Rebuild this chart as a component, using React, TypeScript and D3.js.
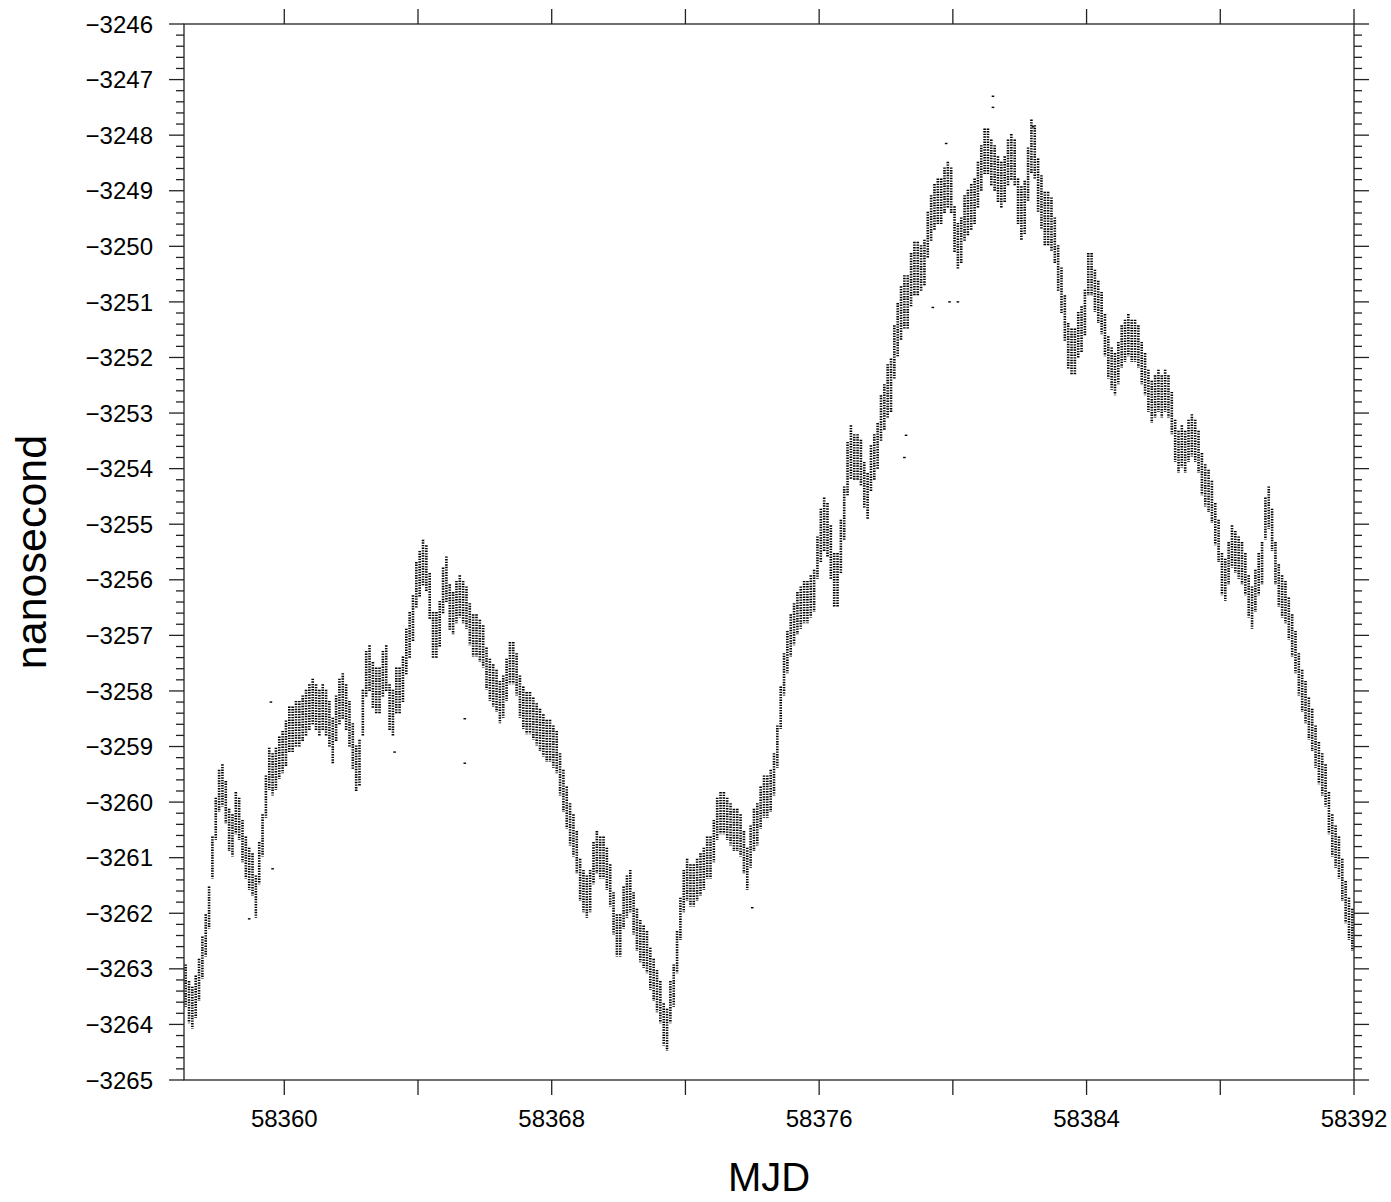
import React from 'react';
import * as d3 from 'd3';

// Clock offset (nanosecond): one value per 0.1 day, starting at MJD 58357.0
const mid57to61 = [
  -3263.3, -3263.6, -3263.7, -3263.5, -3263.2, -3262.8, -3262.4, -3261.9, -3261.0, -3260.3,
  -3259.8, -3259.7, -3260.0, -3260.5, -3260.6, -3260.2, -3260.3, -3260.7, -3261.0, -3261.2,
  -3261.3, -3261.7, -3261.1, -3260.6, -3259.9, -3259.4, -3259.5, -3259.4, -3259.2, -3259.1,
  -3258.95, -3258.7, -3258.7, -3258.6, -3258.6, -3258.5, -3258.4, -3258.3, -3258.2, -3258.3,
  -3258.4, -3258.3, -3258.4, -3258.6, -3258.9, -3258.5, -3258.2, -3258.1, -3258.3, -3258.6,
];
const mid62to66 = [
  -3259.0, -3259.4, -3259.3, -3258.4, -3257.7, -3257.6, -3257.9, -3258.0, -3258.0, -3257.7,
  -3257.6, -3258.3, -3258.4, -3258.0, -3258.0, -3257.8, -3257.3, -3257.0, -3256.7, -3256.1,
  -3255.9, -3255.7, -3255.8, -3256.3, -3257.0, -3257.0, -3256.8, -3256.2, -3256.0, -3256.5,
  -3256.6, -3256.4, -3256.3, -3256.4, -3256.5, -3256.8, -3257.0, -3257.0, -3257.1, -3257.2,
  -3257.6, -3257.8, -3257.9, -3258.0, -3258.2, -3258.1, -3257.8, -3257.5, -3257.5, -3257.7,
];
const mid67to71 = [
  -3258.1, -3258.3, -3258.4, -3258.4, -3258.5, -3258.6, -3258.7, -3258.8, -3258.9, -3258.9,
  -3259.0, -3259.1, -3259.5, -3259.8, -3260.1, -3260.4, -3260.6, -3260.9, -3261.4, -3261.6,
  -3261.7, -3261.6, -3261.1, -3260.9, -3261.0, -3261.0, -3261.2, -3261.5, -3262.0, -3262.4,
  -3262.4, -3261.9, -3261.7, -3261.6, -3262.0, -3262.3, -3262.5, -3262.6, -3262.7, -3263.0,
  -3263.2, -3263.4, -3263.6, -3264.0, -3264.1, -3263.6, -3263.3, -3262.7, -3262.1, -3261.6,
];
const mid72to76 = [
  -3261.4, -3261.5, -3261.5, -3261.4, -3261.3, -3261.2, -3261.0, -3261.0, -3260.7, -3260.3,
  -3260.2, -3260.2, -3260.3, -3260.4, -3260.5, -3260.5, -3260.6, -3260.9, -3261.2, -3260.8,
  -3260.5, -3260.4, -3260.1, -3259.9, -3259.9, -3259.8, -3259.5, -3259.0, -3258.3, -3257.7,
  -3257.3, -3257.0, -3256.8, -3256.6, -3256.5, -3256.4, -3256.4, -3256.3, -3256.2, -3255.6,
  -3255.2, -3255.0, -3255.1, -3255.5, -3256.0, -3256.0, -3255.4, -3254.8, -3254.0, -3253.7,
];
const mid77to81 = [
  -3253.8, -3253.8, -3253.9, -3254.3, -3254.5, -3254.0, -3253.8, -3253.6, -3253.1, -3252.9,
  -3252.6, -3252.5, -3251.9, -3251.5, -3251.2, -3251.0, -3251.0, -3250.6, -3250.4, -3250.4,
  -3250.4, -3250.3, -3249.8, -3249.5, -3249.3, -3249.2, -3249.2, -3249.0, -3248.9, -3249.0,
  -3249.7, -3250.0, -3249.9, -3249.5, -3249.4, -3249.3, -3249.2, -3248.9, -3248.6, -3248.3,
  -3248.3, -3248.5, -3248.6, -3248.8, -3248.9, -3248.8, -3248.5, -3248.4, -3248.5, -3249.2,
];
const mid82to86 = [
  -3249.4, -3249.3, -3248.7, -3248.2, -3248.3, -3248.9, -3249.2, -3249.5, -3249.5, -3249.6,
  -3249.9, -3250.4, -3250.8, -3251.3, -3251.8, -3251.9, -3251.9, -3251.6, -3251.5, -3251.2,
  -3250.5, -3250.5, -3250.8, -3251.0, -3251.2, -3251.6, -3252.0, -3252.2, -3252.3, -3252.1,
  -3251.8, -3251.7, -3251.6, -3251.7, -3251.7, -3251.8, -3252.1, -3252.3, -3252.6, -3252.8,
  -3252.7, -3252.6, -3252.7, -3252.6, -3252.7, -3253.0, -3253.5, -3253.7, -3253.6, -3253.7,
];
const mid87to91 = [
  -3253.5, -3253.4, -3253.5, -3253.7, -3254.1, -3254.3, -3254.4, -3254.6, -3255.0, -3255.3,
  -3255.9, -3256.0, -3255.7, -3255.4, -3255.5, -3255.6, -3255.7, -3255.9, -3256.3, -3256.5,
  -3256.2, -3255.9, -3255.7, -3254.9, -3254.7, -3255.1, -3255.7, -3256.1, -3256.3, -3256.4,
  -3256.7, -3257.0, -3257.3, -3257.7, -3258.0, -3258.2, -3258.5, -3258.7, -3259.0, -3259.3,
  -3259.5, -3259.7, -3260.2, -3260.6, -3260.8, -3261.0, -3261.4, -3261.8, -3262.1, -3262.3,
];

// Half-width of the point cloud for each whole day (MJD 58357 … 58391)
const halfSpreadPerDay = [
  0.38, 0.38, 0.38, 0.42, 0.42,
  0.42, 0.42, 0.42, 0.38, 0.38,
  0.38, 0.38, 0.38, 0.38, 0.38,
  0.38, 0.38, 0.38, 0.38, 0.48,
  0.42, 0.48, 0.42, 0.42, 0.42,
  0.48, 0.42, 0.38, 0.38, 0.38,
  0.38, 0.38, 0.38, 0.38, 0.38,
];

// Isolated points away from the main cloud: [MJD, nanosecond]
const outliers: [number, number][] = [
  [58358.95, -3262.1], [58359.6, -3258.2], [58359.65, -3261.2], [58363.3, -3259.1],
  [58365.4, -3259.3], [58365.4, -3258.5], [58374.0, -3261.9], [58378.55, -3253.8],
  [58378.6, -3253.4], [58379.4, -3251.1], [58379.8, -3248.15], [58379.9, -3251.0],
  [58380.15, -3251.0], [58381.2, -3247.3], [58381.2, -3247.5], [58382.4, -3247.85],
];

const startMJD = 58357;
const binDays = 0.1;
const xDomain = [58357, 58392];
const yDomain = [-3265, -3246];
const xMajorTicks = [58360, 58364, 58368, 58372, 58376, 58380, 58384, 58388, 58392];
const xLabelTicks = [58360, 58368, 58376, 58384, 58392];
const yMajorTicks = d3.range(-3265, -3245, 1);

const fmt = (v: number) => (v < 0 ? '\u2212' + Math.abs(v) : String(v));

export default function App() {
  const W = 1391;
  const H = 1202;
  const left = 184, right = 1354, top = 24, bottom = 1080;
  const x = d3.scaleLinear().domain(xDomain).range([left, right]);
  const y = d3.scaleLinear().domain(yDomain).range([bottom, top]);

  const mids = [...mid57to61, ...mid62to66, ...mid67to71, ...mid72to76, ...mid77to81, ...mid82to86, ...mid87to91];
  const bins = mids.map((v, i) => {
    const t = startMJD + i * binDays + binDays / 2;
    const h = halfSpreadPerDay[Math.floor(i / 10)];
    return { t, lo: v - h, hi: v + h };
  });

  const yMinor = d3.range(0, 96).map((k) => -3265 + k * 0.2).filter((v) => Math.abs(v - Math.round(v)) > 0.01 && v < -3246);

  const font = 'Liberation Sans, Arial, Helvetica, sans-serif';
  const axisColor = '#222';
  const majorLen = 15;
  const minorLen = 8;

  return (
    <svg width={W} height={H} style={{ position: 'absolute', left: 0, top: 0, background: '#fff' }} fontFamily={font}>
      <rect x={0} y={0} width={W} height={H} fill="#fff" />
      {/* data */}
      <g stroke="#000" strokeWidth={2.6} strokeDasharray="1.4 1.2">
        {bins.map((b, i) => (
          <line key={i} x1={x(b.t)} x2={x(b.t)} y1={y(b.hi)} y2={y(b.lo)} />
        ))}
      </g>
      <g fill="#000">
        {outliers.map(([t, v], i) => (
          <rect key={i} x={x(t) - 1.3} y={y(v) - 0.7} width={2.6} height={1.4} />
        ))}
      </g>
      {/* frame */}
      <rect x={left} y={top} width={right - left} height={bottom - top} fill="none" stroke={axisColor} strokeWidth={1.3} />
      {/* ticks */}
      <g stroke={axisColor} strokeWidth={1.3}>
        {yMajorTicks.map((v) => (
          <g key={v}>
            <line x1={left - majorLen} x2={left} y1={y(v)} y2={y(v)} />
            <line x1={right} x2={right + majorLen} y1={y(v)} y2={y(v)} />
          </g>
        ))}
        {yMinor.map((v, i) => (
          <g key={i}>
            <line x1={left - minorLen} x2={left} y1={y(v)} y2={y(v)} />
            <line x1={right} x2={right + minorLen} y1={y(v)} y2={y(v)} />
          </g>
        ))}
        {xMajorTicks.map((t) => (
          <g key={t}>
            <line x1={x(t)} x2={x(t)} y1={top - majorLen} y2={top} />
            <line x1={x(t)} x2={x(t)} y1={bottom} y2={bottom + majorLen} />
          </g>
        ))}
      </g>
      {/* y labels */}
      <g fontSize={24} fill="#000" textAnchor="end">
        {yMajorTicks.map((v) => (
          <text key={v} x={left - majorLen - 16} y={y(v)} dy="0.36em">
            {fmt(v)}
          </text>
        ))}
      </g>
      {/* x labels */}
      <g fontSize={24} fill="#000" textAnchor="middle">
        {xLabelTicks.map((t) => (
          <text key={t} x={x(t)} y={1127}>
            {t}
          </text>
        ))}
      </g>
      {/* axis titles */}
      <text x={(left + right) / 2} y={1191} textAnchor="middle" fontSize={40} fill="#000">
        MJD
      </text>
      <text transform={`translate(46, ${(top + bottom) / 2}) rotate(-90)`} textAnchor="middle" fontSize={43} fill="#000">
        nanosecond
      </text>
    </svg>
  );
}
